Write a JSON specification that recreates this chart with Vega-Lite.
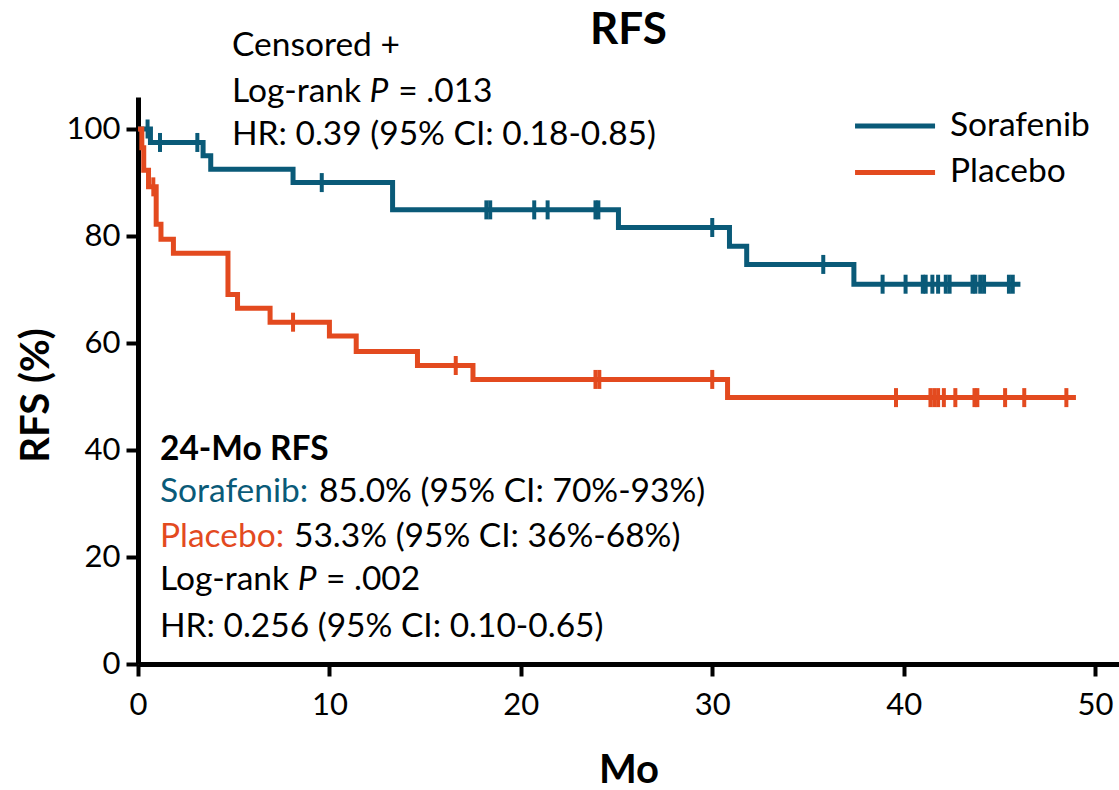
{
  "$schema": "https://vega.github.io/schema/vega-lite/v6.json",
  "width": 981,
  "height": 567,
  "autosize": {"type": "none"},
  "padding": {"left": 138, "top": 97, "right": 0, "bottom": 126},
  "background": "white",
  "title": {"text": "RFS", "font": "Lato", "fontSize": 44, "fontWeight": "bold", "color": "black", "anchor": "middle", "frame": "group", "baseline": "alphabetic", "offset": -59},
  "config": {
    "view": {"stroke": null},
    "axis": {"domainColor": "black", "domainWidth": 5, "tickColor": "black", "tickWidth": 4, "tickSize": 12, "labelFont": "Lato", "labelFontSize": 31, "labelColor": "black", "labelFlush": false, "grid": false, "titleFont": "Lato", "titleFontWeight": "bold", "titleFontSize": 40, "titleColor": "black"},
    "text": {"font": "Lato", "fontSize": 33.5, "align": "left", "baseline": "middle", "color": "black"}
  },
  "datasets": {
    "km": [
      {"group": "Sorafenib", "t": 0, "s": 100},
      {"group": "Sorafenib", "t": 0.65, "s": 97.5},
      {"group": "Sorafenib", "t": 3.4, "s": 95.0},
      {"group": "Sorafenib", "t": 3.8, "s": 92.5},
      {"group": "Sorafenib", "t": 8.1, "s": 90.0},
      {"group": "Sorafenib", "t": 13.3, "s": 84.9},
      {"group": "Sorafenib", "t": 25.1, "s": 81.6},
      {"group": "Sorafenib", "t": 30.9, "s": 78.1},
      {"group": "Sorafenib", "t": 31.8, "s": 74.7},
      {"group": "Sorafenib", "t": 37.4, "s": 71.0},
      {"group": "Sorafenib", "t": 46.1, "s": 71.0},
      {"group": "Placebo", "t": 0, "s": 100},
      {"group": "Placebo", "t": 0.2, "s": 96.5},
      {"group": "Placebo", "t": 0.3, "s": 92.3},
      {"group": "Placebo", "t": 0.55, "s": 89.2},
      {"group": "Placebo", "t": 0.95, "s": 82.2},
      {"group": "Placebo", "t": 1.2, "s": 79.4},
      {"group": "Placebo", "t": 1.85, "s": 76.8},
      {"group": "Placebo", "t": 4.7, "s": 69.1},
      {"group": "Placebo", "t": 5.2, "s": 66.5},
      {"group": "Placebo", "t": 6.9, "s": 63.9},
      {"group": "Placebo", "t": 10.0, "s": 61.3},
      {"group": "Placebo", "t": 11.4, "s": 58.4},
      {"group": "Placebo", "t": 14.6, "s": 55.8},
      {"group": "Placebo", "t": 17.5, "s": 53.2},
      {"group": "Placebo", "t": 30.8, "s": 49.8},
      {"group": "Placebo", "t": 49.0, "s": 49.8}
    ],
    "cens": [
      {"group": "Sorafenib", "t": 0.5, "s": 100},
      {"group": "Sorafenib", "t": 1.15, "s": 97.5},
      {"group": "Sorafenib", "t": 3.1, "s": 97.5},
      {"group": "Sorafenib", "t": 9.6, "s": 90},
      {"group": "Sorafenib", "t": 18.2, "s": 84.9},
      {"group": "Sorafenib", "t": 18.4, "s": 84.9},
      {"group": "Sorafenib", "t": 20.7, "s": 84.9},
      {"group": "Sorafenib", "t": 21.4, "s": 84.9},
      {"group": "Sorafenib", "t": 23.9, "s": 84.9},
      {"group": "Sorafenib", "t": 24.05, "s": 84.9},
      {"group": "Sorafenib", "t": 30.0, "s": 81.6},
      {"group": "Sorafenib", "t": 35.8, "s": 74.7},
      {"group": "Sorafenib", "t": 38.9, "s": 71},
      {"group": "Sorafenib", "t": 40.1, "s": 71},
      {"group": "Sorafenib", "t": 41.0, "s": 71},
      {"group": "Sorafenib", "t": 41.15, "s": 71},
      {"group": "Sorafenib", "t": 41.5, "s": 71},
      {"group": "Sorafenib", "t": 41.8, "s": 71},
      {"group": "Sorafenib", "t": 42.2, "s": 71},
      {"group": "Sorafenib", "t": 42.4, "s": 71},
      {"group": "Sorafenib", "t": 43.6, "s": 71},
      {"group": "Sorafenib", "t": 43.75, "s": 71},
      {"group": "Sorafenib", "t": 44.0, "s": 71},
      {"group": "Sorafenib", "t": 44.2, "s": 71},
      {"group": "Sorafenib", "t": 45.5, "s": 71},
      {"group": "Sorafenib", "t": 45.7, "s": 71},
      {"group": "Placebo", "t": 0.8, "s": 89.2},
      {"group": "Placebo", "t": 8.1, "s": 63.9},
      {"group": "Placebo", "t": 16.6, "s": 55.8},
      {"group": "Placebo", "t": 23.9, "s": 53.2},
      {"group": "Placebo", "t": 24.1, "s": 53.2},
      {"group": "Placebo", "t": 30.0, "s": 53.2},
      {"group": "Placebo", "t": 39.6, "s": 49.8},
      {"group": "Placebo", "t": 41.4, "s": 49.8},
      {"group": "Placebo", "t": 41.6, "s": 49.8},
      {"group": "Placebo", "t": 41.8, "s": 49.8},
      {"group": "Placebo", "t": 42.1, "s": 49.8},
      {"group": "Placebo", "t": 42.7, "s": 49.8},
      {"group": "Placebo", "t": 43.7, "s": 49.8},
      {"group": "Placebo", "t": 43.85, "s": 49.8},
      {"group": "Placebo", "t": 45.3, "s": 49.8},
      {"group": "Placebo", "t": 46.3, "s": 49.8},
      {"group": "Placebo", "t": 48.5, "s": 49.8}
    ],
    "leg": [
      {"group": "Sorafenib", "y": 100.6},
      {"group": "Placebo", "y": 91.9}
    ],
    "txt": [
      {"x": 4.91, "y": 115.5, "text": "Censored +"},
      {"x": 4.91, "y": 106.9, "text": "Log-rank"},
      {"x": 13.6, "y": 106.9, "text": "= .013"},
      {"x": 4.91, "y": 98.9, "text": "HR: 0.39 (95% CI: 0.18-0.85)"},
      {"x": 9.45, "y": 32.2, "text": "85.0% (95% CI: 70%-93%)"},
      {"x": 8.15, "y": 23.8, "text": "53.3% (95% CI: 36%-68%)"},
      {"x": 1.15, "y": 15.7, "text": "Log-rank"},
      {"x": 9.82, "y": 15.7, "text": "= .002"},
      {"x": 1.15, "y": 6.9, "text": "HR: 0.256 (95% CI: 0.10-0.65)"}
    ],
    "txtItal": [
      {"x": 12.1, "y": 106.9, "text": "P"},
      {"x": 8.35, "y": 15.7, "text": "P"}
    ],
    "txtBold": [
      {"x": 1.15, "y": 40.1, "text": "24-Mo RFS"}
    ],
    "txtCol": [
      {"x": 1.15, "y": 32.2, "text": "Sorafenib:", "group": "Sorafenib"},
      {"x": 1.15, "y": 23.8, "text": "Placebo:", "group": "Placebo"}
    ]
  },
  "layer": [
    {
      "data": {"name": "km"},
      "mark": {"type": "line", "interpolate": "step-after", "strokeWidth": 5},
      "encoding": {
        "x": {"field": "t", "type": "quantitative", "scale": {"domain": [0, 51.25], "nice": false, "zero": true}, "axis": {"values": [0, 10, 20, 30, 40, 50], "title": "Mo", "labelPadding": 14, "titlePadding": 30}},
        "y": {"field": "s", "type": "quantitative", "scale": {"domain": [0, 106], "nice": false}, "axis": {"values": [0, 20, 40, 60, 80, 100], "title": "RFS (%)", "labelPadding": 6, "titlePadding": 10, "titleY": 298}},
        "color": {"field": "group", "type": "nominal", "scale": {"domain": ["Sorafenib", "Placebo"], "range": ["#0a5a78", "#e34a1f"]}, "legend": null}
      }
    },
    {
      "data": {"name": "cens"},
      "mark": {"type": "tick", "orient": "vertical", "size": 19, "thickness": 4, "opacity": 1},
      "encoding": {
        "x": {"field": "t", "type": "quantitative"},
        "y": {"field": "s", "type": "quantitative"},
        "color": {"field": "group", "type": "nominal"}
      }
    },
    {
      "data": {"name": "leg"},
      "mark": {"type": "rule", "strokeWidth": 5},
      "encoding": {
        "x": {"datum": 37.46},
        "x2": {"datum": 41.64},
        "y": {"field": "y", "type": "quantitative"},
        "color": {"field": "group", "type": "nominal"}
      }
    },
    {
      "data": {"name": "leg"},
      "mark": {"type": "text"},
      "encoding": {
        "x": {"datum": 42.42},
        "y": {"field": "y", "type": "quantitative"},
        "text": {"field": "group"}
      }
    },
    {
      "data": {"name": "txt"},
      "mark": {"type": "text"},
      "encoding": {
        "x": {"field": "x", "type": "quantitative"},
        "y": {"field": "y", "type": "quantitative"},
        "text": {"field": "text"}
      }
    },
    {
      "data": {"name": "txtItal"},
      "mark": {"type": "text", "fontStyle": "italic"},
      "encoding": {
        "x": {"field": "x", "type": "quantitative"},
        "y": {"field": "y", "type": "quantitative"},
        "text": {"field": "text"}
      }
    },
    {
      "data": {"name": "txtBold"},
      "mark": {"type": "text", "fontWeight": "bold"},
      "encoding": {
        "x": {"field": "x", "type": "quantitative"},
        "y": {"field": "y", "type": "quantitative"},
        "text": {"field": "text"}
      }
    },
    {
      "data": {"name": "txtCol"},
      "mark": {"type": "text"},
      "encoding": {
        "x": {"field": "x", "type": "quantitative"},
        "y": {"field": "y", "type": "quantitative"},
        "text": {"field": "text"},
        "color": {"field": "group", "type": "nominal"}
      }
    }
  ]
}
